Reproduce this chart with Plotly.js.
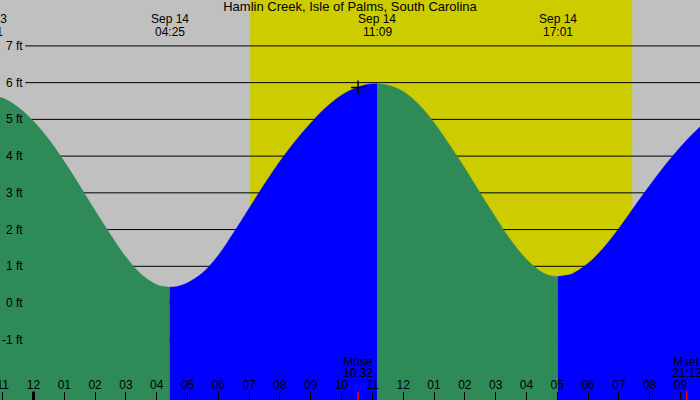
<!DOCTYPE html>
<html>
<head>
<meta charset="utf-8">
<script src="https://cdn.plot.ly/plotly-3.0.1.min.js"></script>
<style>
  html, body { margin: 0; padding: 0; background: #c0c0c0; }
  #chart { width: 700px; height: 400px; }
</style>
</head>
<body>
<div id="chart"></div>
<script>
// tide curve (ft), times are local
const tideTimes = [
    '2024-09-13 22:31', '2024-09-13 23:00', '2024-09-13 23:30', '2024-09-14 00:00',
    '2024-09-14 00:30', '2024-09-14 01:00', '2024-09-14 01:30', '2024-09-14 02:00',
    '2024-09-14 02:30', '2024-09-14 03:00', '2024-09-14 03:30', '2024-09-14 04:00',
    '2024-09-14 04:10', '2024-09-14 04:25', '2024-09-14 04:40', '2024-09-14 05:00',
    '2024-09-14 05:30', '2024-09-14 06:00', '2024-09-14 06:30', '2024-09-14 07:00',
    '2024-09-14 07:30', '2024-09-14 08:00', '2024-09-14 08:30', '2024-09-14 09:00',
    '2024-09-14 09:30', '2024-09-14 10:00', '2024-09-14 10:30', '2024-09-14 10:50',
    '2024-09-14 11:09', '2024-09-14 11:30', '2024-09-14 12:00', '2024-09-14 12:30',
    '2024-09-14 13:00', '2024-09-14 13:30', '2024-09-14 14:00', '2024-09-14 14:30',
    '2024-09-14 15:00', '2024-09-14 15:30', '2024-09-14 16:00', '2024-09-14 16:30',
    '2024-09-14 16:45', '2024-09-14 17:01', '2024-09-14 17:20', '2024-09-14 17:30',
    '2024-09-14 18:00', '2024-09-14 18:30', '2024-09-14 19:00', '2024-09-14 19:30',
    '2024-09-14 20:00', '2024-09-14 20:30', '2024-09-14 21:00', '2024-09-14 21:30',
    '2024-09-14 22:00'
]
const tideHeights = [
    5.65, 5.58, 5.33, 4.95,
    4.45, 3.85, 3.19, 2.51,
    1.86, 1.25, 0.78, 0.50,
    0.46, 0.43, 0.45, 0.55,
    0.83, 1.30, 1.92, 2.58,
    3.24, 3.86, 4.41, 4.90,
    5.33, 5.66, 5.87, 5.95,
    5.97, 5.93, 5.76, 5.41,
    4.91, 4.31, 3.67, 2.99,
    2.33, 1.70, 1.19, 0.84,
    0.75, 0.72, 0.76, 0.80,
    1.08, 1.50, 2.03, 2.62,
    3.20, 3.75, 4.25, 4.69,
    5.06
]

// highs and lows labelled along the top
const extremeTimes = ['2024-09-13 22:31', '2024-09-14 04:25', '2024-09-14 11:09', '2024-09-14 17:01']
const extremeDays = ['Sep 13', 'Sep 14', 'Sep 14', 'Sep 14']
const extremeClock = ['22:31', '04:25', '11:09', '17:01']

const moonTimes = ['2024-09-14 10:32', '2024-09-14 21:12']
const moonNames = ['Mrise', 'Mset']
const moonClock = ['10:32', '21:12']
const moonMarkTime = ['2024-09-14 10:32']
const moonMarkHeight = [5.87]

const sunrise = '2024-09-14 07:02'
const sunset = '2024-09-14 19:26'
const midnight = '2024-09-14 00:00'

const heightTicks = [-1, 0, 1, 2, 3, 4, 5, 6, 7]

const xStart = '2024-09-13 22:54:46'
const xEnd = '2024-09-14 21:37:58'
const yMin = -2.64
const yMax = 8.25

const toMs = s => new Date(s.replace(' ', 'T') + 'Z').getTime()
const toPaper = s => (toMs(s) - toMs(xStart)) / (toMs(xEnd) - toMs(xStart))

const font = 'Liberation Sans, Arial, sans-serif'
const traces = []

// split the curve at each high/low, green while falling, blue while rising
const cuts = extremeTimes.map(t => tideTimes.indexOf(t)).filter(i => i >= 0)
if (cuts[cuts.length - 1] !== tideTimes.length - 1) cuts.push(tideTimes.length - 1)
for (let k = 0; k < cuts.length - 1; k++) {
    const a = cuts[k], b = cuts[k + 1]
    const xs = tideTimes.slice(a, b + 1)
    const ys = tideHeights.slice(a, b + 1)
    const color = ys[ys.length - 1] < ys[0] ? '#2e8b57' : '#0000ff'
    traces.push({
        x: [xs[0], xs[xs.length - 1]], y: [yMin - 1, yMin - 1],
        mode: 'lines', line: { width: 0 }, hoverinfo: 'skip', showlegend: false
    })
    traces.push({
        x: xs, y: ys, mode: 'lines', fill: 'tonexty', fillcolor: color,
        line: { shape: 'spline', smoothing: 1, width: 0.5, color: color },
        hoverinfo: 'skip', showlegend: false
    })
}

traces.push({
    x: moonMarkTime, y: moonMarkHeight, mode: 'markers',
    marker: { symbol: 'cross-thin', size: 10, line: { color: '#000', width: 1.5 } },
    hoverinfo: 'skip', showlegend: false
})

const shapes = [
    { type: 'rect', xref: 'x', yref: 'paper', x0: sunrise, x1: sunset, y0: 0, y1: 1,
      fillcolor: '#cccc00', line: { width: 0 }, layer: 'below' }
]
heightTicks.forEach(v => shapes.push({
    type: 'line', xref: 'paper', yref: 'y', x0: 0.036, x1: 1, y0: v, y1: v,
    line: { color: '#000', width: 1 }, layer: 'below'
}))
shapes.push({
    type: 'line', xref: 'x', yref: 'paper', x0: midnight, x1: midnight, y0: 0, y1: 0.021,
    line: { color: '#000', width: 3 }, layer: 'above'
})
moonTimes.forEach(t => shapes.push({
    type: 'line', xref: 'x', yref: 'paper', x0: t, x1: t, y0: 0, y1: 0.021,
    line: { color: '#ff0000', width: 1.5 }, layer: 'above'
}))

const annotations = []
heightTicks.forEach(v => annotations.push({
    xref: 'paper', yref: 'y', x: 0.035, y: v, xanchor: 'right', yanchor: 'middle',
    text: v + ' ft', showarrow: false, font: { size: 12, color: '#000' }
}))
extremeTimes.forEach((t, i) => {
    annotations.push({
        xref: 'paper', yref: 'paper', x: toPaper(t), y: 0.953, xanchor: 'center', yanchor: 'middle',
        text: extremeDays[i], showarrow: false, font: { size: 12, color: '#000' }
    })
    annotations.push({
        xref: 'paper', yref: 'paper', x: toPaper(t), y: 0.921, xanchor: 'center', yanchor: 'middle',
        text: extremeClock[i], showarrow: false, font: { size: 12, color: '#000' }
    })
})
moonTimes.forEach((t, i) => {
    annotations.push({
        xref: 'paper', yref: 'paper', x: toPaper(t), y: 0.096, xanchor: 'center', yanchor: 'middle',
        text: moonNames[i], showarrow: false, font: { size: 12, color: '#000' }
    })
    annotations.push({
        xref: 'paper', yref: 'paper', x: toPaper(t), y: 0.068, xanchor: 'center', yanchor: 'middle',
        text: moonClock[i], showarrow: false, font: { size: 12, color: '#000' }
    })
})

const layout = {
    width: 700,
    height: 400,
    margin: { l: 0, r: 0, t: 0, b: 0 },
    paper_bgcolor: '#c0c0c0',
    plot_bgcolor: '#c0c0c0',
    font: { family: font, color: '#000' },
    title: {
        text: 'Hamlin Creek, Isle of Palms, South Carolina',
        font: { size: 13, color: '#000' },
        x: 0.5, xanchor: 'center', y: 0.983, yanchor: 'middle', yref: 'paper'
    },
    showlegend: false,
    xaxis: {
        type: 'date',
        range: [xStart, xEnd],
        tick0: '2024-09-13 23:00',
        dtick: 3600000,
        tickformat: '%I',
        ticks: 'inside',
        ticklen: 8,
        tickwidth: 1,
        tickcolor: '#000',
        ticklabelposition: 'inside',
        ticklabeloverflow: 'allow',
        tickfont: { size: 12, color: '#000' },
        showgrid: false,
        zeroline: false,
        showline: false,
        fixedrange: true
    },
    yaxis: {
        range: [yMin, yMax],
        showticklabels: false,
        ticks: '',
        showgrid: false,
        zeroline: false,
        showline: false,
        fixedrange: true
    },
    shapes: shapes,
    annotations: annotations
}

Plotly.newPlot('chart', traces, layout, { staticPlot: true })
</script>
</body>
</html>
